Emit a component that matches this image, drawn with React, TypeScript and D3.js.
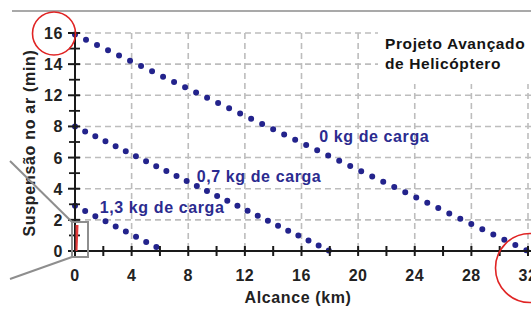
import React from "react";
import * as d3 from "d3";

const W = 531;
const H = 309;

// Axis ticks (the original axis labels skip 10, equally spaced)
const xMajorTicks = [0, 4, 8, 12, 16, 20, 24, 28, 32];
const xMinorTicks = [0, 2, 4, 6, 8, 10, 12, 14, 16, 18, 20, 22, 24, 26, 28, 30, 32];
const yTickValues = [0, 2, 4, 6, 8, 12, 14, 16];
const yTickLabels = ["0", "2", "4", "6", "8", "12", "14", "16"];

// Series: straight lines (range km vs hover minutes)
const seriesNames = ["0 kg de carga", "0,7 kg de carga", "1,3 kg de carga"];
const seriesKm = [
  [0, 32],
  [0, 18],
  [0, 6.3],
];
const seriesMin = [
  [15.9, 0],
  [8, 0],
  [2.9, 0],
];
const seriesDotGap = [12.2, 11.3, 11.4];

// Label anchors (data coordinates)
const labelKm = [17.25, 8.6, 1.75];
const labelMin = [6.97, 4.4, 2.42];

const FONT = "'Liberation Sans', Arial, Helvetica, sans-serif";
const BLUE = "#23238c";
const LABEL_BLUE = "#2b2b8f";

export default function App() {
  const x0 = 75;
  const x1 = 528;
  const yBottom = 251;
  const yTop = 33;
  const step = (yBottom - yTop) / (yTickValues.length - 1);

  const x = d3.scaleLinear().domain([0, 32]).range([x0, x1]);
  const y = d3
    .scaleLinear()
    .domain(yTickValues)
    .range(yTickValues.map((_, i) => yBottom - i * step));

  const yMinor: number[] = [];
  for (let i = 0; i < yTickValues.length - 1; i++) {
    yMinor.push((yTickValues[i] + yTickValues[i + 1]) / 2);
  }

  const line = d3
    .line<[number, number]>()
    .x((d) => x(d[0]))
    .y((d) => y(d[1]));

  const gridColor = "#bdbdbd";
  const tickColor = "#1a1a1a";

  return (
    <svg
      width={W}
      height={H}
      viewBox={`0 0 ${W} ${H}`}
      style={{ position: "absolute", left: 0, top: 0, background: "#fff" }}
    >
      <rect x={0} y={0} width={W} height={H} fill="#fff" />
      {/* top rule */}
      <line x1={12} x2={W} y1={11} y2={11} stroke="#8c8c8c" strokeWidth={1.5} />

      {/* grid */}
      <g stroke={gridColor} strokeWidth={1.6} strokeDasharray="6 4" fill="none">
        {yTickValues.slice(1).map((v) => (
          <line key={"h" + v} x1={x0} x2={W} y1={y(v)} y2={y(v)} />
        ))}
        {xMajorTicks.slice(1).map((v) => (
          <line key={"v" + v} x1={x(v)} x2={x(v)} y1={y(16)} y2={yBottom} />
        ))}
      </g>

      {/* title with white backing */}
      <rect x={378} y={22} width={W - 378} height={62} fill="#fff" />
      <g fontFamily={FONT} fontWeight="bold" fontSize={15.5} fill="#141414" letterSpacing={0.6}>
        <text x={385} y={48.5}>Projeto Avançado</text>
        <text x={385} y={68.5}>de Helicóptero</text>
      </g>

      {/* series as dotted lines */}
      {seriesNames.map((name, i) => {
        const pts: [number, number][] = seriesKm[i].map((k, j) => [k, seriesMin[i][j]]);
        return (
          <path
            key={name}
            d={line(pts) || ""}
            fill="none"
            stroke={BLUE}
            strokeWidth={6}
            strokeLinecap="round"
            strokeDasharray={`0 ${seriesDotGap[i]}`}
          />
        );
      })}

      {/* series labels */}
      <g fontFamily={FONT} fontWeight="bold" fontSize={16} fill={LABEL_BLUE} letterSpacing={0.6}>
        {seriesNames.map((name, i) => (
          <text key={name} x={x(labelKm[i])} y={y(labelMin[i])}>
            {name}
          </text>
        ))}
      </g>

      {/* y axis */}
      <line x1={x0} x2={x0} y1={y(16) - 1} y2={yBottom} stroke={tickColor} strokeWidth={2} />
      {yTickValues.map((v) => (
        <line key={"yt" + v} x1={x0 - 7} x2={x0 + 5} y1={y(v)} y2={y(v)} stroke={tickColor} strokeWidth={2} />
      ))}
      {yMinor.map((v) => (
        <line key={"ym" + v} x1={x0 - 6} x2={x0 + 5} y1={y(v)} y2={y(v)} stroke={tickColor} strokeWidth={1.8} />
      ))}
      <g fontFamily={FONT} fontWeight="bold" fontSize={16} fill="#222" textAnchor="end" letterSpacing={0.6}>
        {yTickValues.map((v, i) => (
          <text key={"yl" + v} x={63} y={y(v) + 6}>
            {yTickLabels[i]}
          </text>
        ))}
      </g>

      {/* x axis */}
      <line x1={x0} x2={W} y1={yBottom} y2={yBottom} stroke={tickColor} strokeWidth={2} />
      {xMinorTicks.map((v) => (
        <line key={"xt" + v} x1={x(v)} x2={x(v)} y1={yBottom - 5} y2={yBottom + 5} stroke={tickColor} strokeWidth={2} />
      ))}
      <g fontFamily={FONT} fontWeight="bold" fontSize={16} fill="#222" textAnchor="middle" letterSpacing={0.6}>
        {xMajorTicks.map((v) => (
          <text key={"xl" + v} x={x(v)} y={281}>
            {String(v)}
          </text>
        ))}
      </g>

      {/* axis titles */}
      <text
        x={298}
        y={303}
        textAnchor="middle"
        fontFamily={FONT}
        fontWeight="bold"
        fontSize={16}
        fill="#222"
        letterSpacing={0.6}
      >
        Alcance (km)
      </text>
      <text
        transform={`translate(35,143) rotate(-90)`}
        textAnchor="middle"
        fontFamily={FONT}
        fontWeight="bold"
        fontSize={16}
        fill="#222"
        letterSpacing={0.7}
      >
        Suspensão no ar (min)
      </text>

      {/* zoom box annotation */}
      <line x1={10} y1={161} x2={72} y2={222} stroke="#8e8e8e" strokeWidth={2} />
      <line x1={10} y1={279} x2={72} y2={257} stroke="#8e8e8e" strokeWidth={2} />
      <polygon points="75.5,225 78.5,225 77.5,251 75.5,251" fill="#e23a3a" />
      <rect x={72} y={222} width={16} height={35} fill="none" stroke="#8e8e8e" strokeWidth={2} />

      {/* red highlight circles */}
      <circle cx={54} cy={33.5} r={21.5} fill="none" stroke="#e02424" strokeWidth={1.6} />
      <circle cx={530} cy={268} r={34.5} fill="none" stroke="#e02424" strokeWidth={1.6} />
    </svg>
  );
}
